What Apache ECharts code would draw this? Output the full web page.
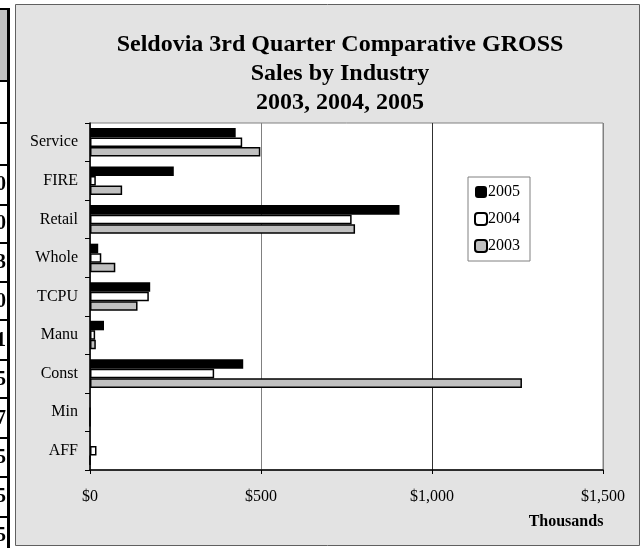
<!DOCTYPE html>
<html>
<head>
<meta charset="utf-8">
<script src="https://cdn.jsdelivr.net/npm/echarts@6/dist/echarts.min.js"></script>
<style>
html,body{margin:0;padding:0;background:#fff;}
#c{width:643px;height:548px;}
</style>
</head>
<body>
<div id="c"></div>
<script>
// Data
const categories = ['Service', 'FIRE', 'Retail', 'Whole', 'TCPU', 'Manu', 'Const', 'Min', 'AFF'];
const sales2005 = [426, 245, 905, 24, 176, 41, 448, 0, 0];
const sales2004 = [445, 17, 765, 33, 172, 15, 363, 0, 19];
const sales2003 = [498, 94, 775, 74, 139, 17, 1263, 0, 0];
const seriesNames = ['2005', '2004', '2003'];
const xTicks = { min: 0, max: 1500, interval: 500 };
const titleLines = ['Seldovia 3rd Quarter Comparative GROSS', 'Sales by Industry', '2003, 2004, 2005'];
const axisTitle = 'Thousands';
// fragments of the neighbouring spreadsheet column
const tableDigits = ['0', '0', '3', '0', '1', '5', '7', '5', '5', '5'];

const FONT = '"Liberation Serif", "Times New Roman", serif';

const chart = echarts.init(document.getElementById('c'), null, { renderer: 'canvas' });

const graphics = [];
// chart area background & border
graphics.push({
  type: 'rect', z: -10, silent: true,
  shape: { x: 15.5, y: 4.5, width: 624, height: 541 },
  style: { fill: '#e3e3e3', stroke: '#606060', lineWidth: 1 }
});
// spreadsheet fragment on the left
graphics.push({
  type: 'rect', z: -10, silent: true,
  shape: { x: 0, y: 10, width: 8, height: 70 },
  style: { fill: '#c0c0c0' }
});
const rowLines = [9, 81, 123, 165, 205, 243, 282, 320, 360, 398, 438, 477, 517];
rowLines.forEach(y => graphics.push({
  type: 'rect', z: -9, silent: true,
  shape: { x: 0, y: y - 1, width: 9, height: 2 },
  style: { fill: '#000' }
}));
graphics.push({
  type: 'rect', z: -9, silent: true,
  shape: { x: 7, y: 8, width: 3, height: 540 },
  style: { fill: '#000' }
});
tableDigits.forEach((d, i) => graphics.push({
  type: 'text', z: -9, silent: true,
  x: 6, y: 185 + i * 39,
  style: { text: d, font: 'bold 20px ' + FONT, fill: '#000', align: 'right', verticalAlign: 'middle' }
}));
// title
titleLines.forEach((t, i) => graphics.push({
  type: 'text', silent: true,
  x: 340, y: 45 + i * 29,
  style: { text: t, font: 'bold 24px ' + FONT, fill: '#000', align: 'center', verticalAlign: 'middle' }
}));
// axis title
graphics.push({
  type: 'text', silent: true,
  x: 566, y: 522,
  style: { text: axisTitle, font: 'bold 16px ' + FONT, fill: '#000', align: 'center', verticalAlign: 'middle' }
});

const styles = [
  { color: '#000000', borderColor: '#000000', borderWidth: 0 },
  { color: '#ffffff', borderColor: '#000000', borderWidth: 1.5 },
  { color: '#c0c0c0', borderColor: '#000000', borderWidth: 1.5 }
];
const values = [sales2005, sales2004, sales2003];

chart.setOption({
  animation: false,
  backgroundColor: 'transparent',
  textStyle: { fontFamily: FONT },
  graphic: graphics,
  grid: {
    left: 90, right: 40, top: 123, bottom: 78,
    show: true, backgroundColor: '#ffffff', borderColor: '#808080', borderWidth: 1
  },
  legend: {
    orient: 'vertical',
    left: 468, top: 177,
    data: seriesNames,
    backgroundColor: '#ffffff',
    borderColor: '#808080', borderWidth: 1,
    padding: [7, 10, 7, 6],
    itemWidth: 12, itemHeight: 12, itemGap: 11,
    textStyle: { fontFamily: FONT, fontSize: 16, color: '#000', padding: [0, 0, 0, -4] }
  },
  xAxis: {
    type: 'value',
    min: xTicks.min, max: xTicks.max, interval: xTicks.interval,
    axisLine: { show: true, lineStyle: { color: '#000', width: 1.5 } },
    axisTick: { show: true, length: 4, lineStyle: { color: '#000' } },
    axisLabel: {
      color: '#000', fontFamily: FONT, fontSize: 16, margin: 19,
      formatter: v => '$' + v.toLocaleString('en-US')
    },
    splitLine: { show: true, lineStyle: { color: ['#808080', '#808080', '#303030', '#808080'], width: 1 } }
  },
  yAxis: {
    type: 'category',
    data: categories,
    inverse: true,
    axisLine: { show: true, lineStyle: { color: '#000', width: 1.5 } },
    axisTick: { show: true, length: 5, lineStyle: { color: '#000' } },
    axisLabel: { color: '#000', fontFamily: FONT, fontSize: 16, margin: 12 },
    splitLine: { show: false }
  },
  series: seriesNames.map((n, i) => ({
    name: n,
    type: 'bar',
    data: values[i],
    barGap: '0%',
    barCategoryGap: '26%',
    itemStyle: styles[i],
    emphasis: { disabled: true }
  }))
});
</script>
</body>
</html>
